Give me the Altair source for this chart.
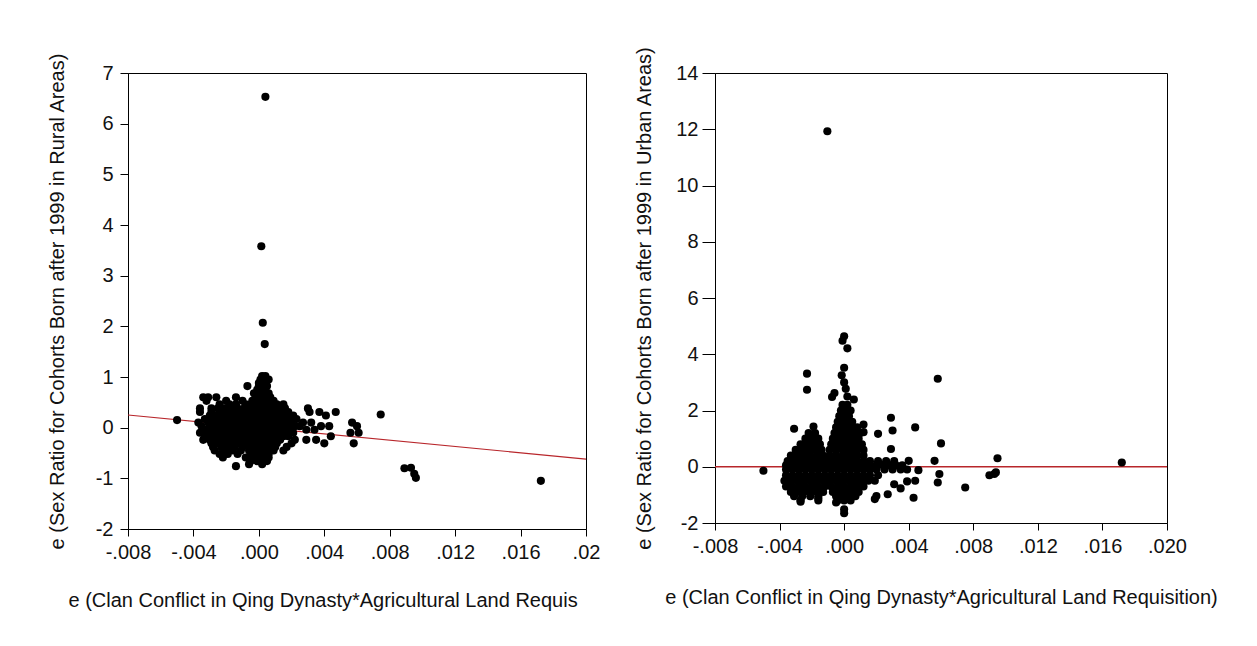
import altair as alt
import pandas as pd

FONT = "Liberation Sans"

# ---------------- Left panel (Rural) ----------------
RURAL_ROW_Y = [1.02, 0.95, 0.88, 0.82, 0.75, 0.68, 0.60, 0.53, 0.46, 0.38, 0.31, 0.24, 0.17,
               0.10, 0.03, -0.04, -0.10, -0.17, -0.24, -0.31, -0.38, -0.45, -0.52, -0.59,
               -0.66, -0.72, -0.76]
RURAL_ROW_X = [
    [0.0002, 0.0004],
    [0.0001, 0.0004, 0.0006],
    [0.0000, 0.0003],
    [-0.0007, 0.0000, 0.0002, 0.0005],
    [-0.0001, 0.0002, 0.0004],
    [-0.0003, 0.0000, 0.0003, 0.0006],
    [-0.0034, -0.0031, -0.0026, -0.0014, -0.0002, 0.0001, 0.0004, 0.0007],
    [-0.0032, -0.0020, -0.0010, -0.0004, -0.0001, 0.0002, 0.0005, 0.0009],
    [-0.0024, -0.0018, -0.0014, -0.0008, -0.0005, -0.0002, 0.0001, 0.0004, 0.0007, 0.0011, 0.0015],
    [-0.0036, -0.0029, -0.0025, -0.0021, -0.0017, -0.0013, -0.0009, -0.0005, -0.0002, 0.0001,
     0.0004, 0.0008, 0.0012, 0.0016, 0.0030],
    [-0.0036, -0.0029, -0.0024, -0.0020, -0.0016, -0.0012, -0.0008, -0.0004, -0.0001, 0.0002,
     0.0005, 0.0009, 0.0013, 0.0018, 0.0031, 0.0037, 0.0047],
    [-0.0030, -0.0026, -0.0022, -0.0018, -0.0014, -0.0010, -0.0006, -0.0002, 0.0001, 0.0004,
     0.0008, 0.0012, 0.0016, 0.0021, 0.0041],
    [-0.0033, -0.0028, -0.0024, -0.0020, -0.0016, -0.0012, -0.0008, -0.0004, 0.0000, 0.0003,
     0.0006, 0.0010, 0.0014, 0.0018, 0.0023],
    [-0.0037, -0.0031, -0.0027, -0.0023, -0.0019, -0.0015, -0.0011, -0.0007, -0.0003, 0.0001,
     0.0004, 0.0008, 0.0012, 0.0016, 0.0020, 0.0027, 0.0032, 0.0057],
    [-0.0035, -0.0030, -0.0026, -0.0022, -0.0018, -0.0014, -0.0010, -0.0006, -0.0002, 0.0001,
     0.0005, 0.0009, 0.0013, 0.0017, 0.0022, 0.0025, 0.0038, 0.0043, 0.0060],
    [-0.0033, -0.0028, -0.0024, -0.0020, -0.0016, -0.0012, -0.0008, -0.0004, 0.0000, 0.0003,
     0.0007, 0.0011, 0.0015, 0.0019, 0.0029, 0.0034],
    [-0.0036, -0.0030, -0.0026, -0.0022, -0.0018, -0.0014, -0.0010, -0.0006, -0.0002, 0.0002,
     0.0005, 0.0009, 0.0013, 0.0017, 0.0021, 0.0056, 0.0061],
    [-0.0033, -0.0028, -0.0024, -0.0020, -0.0016, -0.0012, -0.0008, -0.0004, 0.0000, 0.0003,
     0.0007, 0.0011, 0.0015, 0.0018, 0.0044],
    [-0.0034, -0.0030, -0.0026, -0.0022, -0.0018, -0.0014, -0.0010, -0.0006, -0.0002, 0.0002,
     0.0005, 0.0009, 0.0013, 0.0022, 0.0029, 0.0035],
    [-0.0029, -0.0025, -0.0021, -0.0017, -0.0013, -0.0009, -0.0005, -0.0001, 0.0003, 0.0007,
     0.0011, 0.0020, 0.0040, 0.0058],
    [-0.0028, -0.0023, -0.0019, -0.0015, -0.0010, -0.0006, -0.0002, 0.0002, 0.0006, 0.0010, 0.0017],
    [-0.0027, -0.0021, -0.0016, -0.0011, -0.0006, -0.0002, 0.0001, 0.0005, 0.0009, 0.0015],
    [-0.0024, -0.0019, -0.0013, -0.0005, -0.0001, 0.0002, 0.0006],
    [-0.0022, -0.0008, -0.0003, 0.0000, 0.0003, 0.0006],
    [-0.0005, -0.0001, 0.0002, 0.0005],
    [-0.0006, 0.0002],
    [-0.0014],
]
RURAL_OUT_X = [0.0004, 0.00015, 0.00024, 0.00036, -0.0050, 0.00745, 0.0089, 0.0093, 0.0095,
               0.0096, 0.01724]
RURAL_OUT_Y = [6.53, 3.58, 2.07, 1.65, 0.15, 0.26, -0.80, -0.79, -0.91, -0.99, -1.05]
RURAL_FIT_X = [-0.008, 0.020]
RURAL_FIT_Y = [0.25, -0.62]

# ---------------- Right panel (Urban) ----------------
URBAN_ROW_Y = [2.2, 2.0, 1.8, 1.6, 1.4, 1.2, 1.0, 0.8, 0.6, 0.4, 0.2, 0.05, -0.1, -0.3, -0.5,
               -0.7, -0.9, -1.05, -1.2]
URBAN_ROW_X = [
    [-0.0001, 0.0002],
    [-0.0002, 0.0001, 0.0004],
    [-0.0003, 0.0000, 0.0003],
    [-0.0004, -0.0001, 0.0002, 0.0005],
    [-0.0005, -0.0002, 0.0001, 0.0004, 0.0008],
    [-0.0022, -0.0018, -0.0006, -0.0003, 0.0000, 0.0003, 0.0006, 0.0010],
    [-0.0024, -0.0020, -0.0016, -0.0007, -0.0003, 0.0000, 0.0003, 0.0006, 0.0009],
    [-0.0027, -0.0023, -0.0019, -0.0015, -0.0008, -0.0004, -0.0001, 0.0002, 0.0005, 0.0008, 0.0011],
    [-0.0030, -0.0026, -0.0022, -0.0018, -0.0014, -0.0009, -0.0005, -0.0001, 0.0002, 0.0005,
     0.0008, 0.0012],
    [-0.0033, -0.0029, -0.0025, -0.0021, -0.0017, -0.0013, -0.0009, -0.0005, -0.0001, 0.0002,
     0.0005, 0.0008, 0.0012],
    [-0.0035, -0.0031, -0.0027, -0.0023, -0.0019, -0.0015, -0.0011, -0.0007, -0.0003, 0.0000,
     0.0004, 0.0008, 0.0012, 0.0016, 0.0021, 0.0026, 0.0031],
    [-0.0036, -0.0032, -0.0028, -0.0024, -0.0020, -0.0016, -0.0012, -0.0008, -0.0004, 0.0000,
     0.0004, 0.0008, 0.0012, 0.0016, 0.0020, 0.0024, 0.0028, 0.0032, 0.0036],
    [-0.0036, -0.0032, -0.0028, -0.0024, -0.0020, -0.0016, -0.0012, -0.0008, -0.0004, 0.0000,
     0.0004, 0.0008, 0.0012, 0.0016, 0.0020, 0.0025, 0.0030, 0.0035, 0.0039],
    [-0.0036, -0.0032, -0.0028, -0.0024, -0.0020, -0.0016, -0.0012, -0.0008, -0.0004, 0.0000,
     0.0004, 0.0008, 0.0012, 0.0016, 0.0021],
    [-0.0037, -0.0033, -0.0029, -0.0025, -0.0021, -0.0017, -0.0013, -0.0009, -0.0005, -0.0001,
     0.0003, 0.0007, 0.0011, 0.0015, 0.0019],
    [-0.0036, -0.0032, -0.0028, -0.0024, -0.0020, -0.0016, -0.0012, -0.0008, -0.0004, 0.0000,
     0.0004, 0.0008, 0.0012],
    [-0.0033, -0.0029, -0.0025, -0.0021, -0.0017, -0.0013, -0.0007, -0.0003, 0.0001, 0.0005, 0.0009],
    [-0.0031, -0.0026, -0.0021, -0.0016, -0.0005, -0.0001, 0.0003, 0.0007],
    [-0.0027, -0.0016, -0.0004, 0.0000, 0.0004],
]
URBAN_OUT_X = [-0.00104, 0.0000, -0.0001, 0.0002, 0.0000, -0.00015, -0.0023, -0.0023, 0.0058,
               0.0000, 0.0001, -0.00075, -0.0006, 0.0006, 0.0002, 0.0029, -0.0031, -0.0019,
               0.0044, 0.0030, 0.0021, 0.0012, 0.0012, 0.0060, 0.0029, 0.0056, 0.0040, 0.0095,
               -0.0050, 0.0046, 0.0059, 0.0058, 0.0075, 0.0090, 0.0093, 0.0094, 0.0044, 0.0039,
               0.0035, 0.0043, 0.0027, 0.0031, 0.0019, 0.0020, -0.0027, -0.0016, 0.0000, 0.0000,
               -0.0005, 0.0172]
URBAN_OUT_Y = [11.93, 4.64, 4.48, 4.21, 3.52, 3.25, 3.31, 2.74, 3.13, 3.00, 2.77, 2.48, 2.62,
               2.39, 2.50, 1.74, 1.35, 1.43, 1.40, 1.29, 1.17, 1.50, 1.23, 0.83, 0.63, 0.21,
               0.21, 0.30, -0.14, -0.12, -0.26, -0.56, -0.74, -0.30, -0.26, -0.20, -0.50, -0.52,
               -0.77, -1.10, -0.98, -0.62, -1.15, -1.04, -1.24, -1.12, -1.51, -1.65, -1.27, 0.15]
URBAN_FIT_Y = [0.0]

X_TICKS = [-0.008, -0.004, 0.0, 0.004, 0.008, 0.012, 0.016, 0.020]
RURAL_Y_TICKS = [-2, -1, 0, 1, 2, 3, 4, 5, 6, 7]
URBAN_Y_TICKS = [-2, 0, 2, 4, 6, 8, 10, 12, 14]

RURAL_YTITLE = "e (Sex Ratio for Cohorts Born after 1999 in Rural Areas)"
URBAN_YTITLE = "e (Sex Ratio for Cohorts Born after 1999 in Urban Areas)"
RURAL_XTITLE = "e (Clan Conflict in Qing Dynasty*Agricultural Land Requis"
URBAN_XTITLE = "e (Clan Conflict in Qing Dynasty*Agricultural Land Requisition)"


def points_frame(row_y, row_x, out_x, out_y):
    xs, ys = [], []
    for yv, xl in zip(row_y, row_x):
        for xv in xl:
            xs.append(xv)
            ys.append(yv)
    xs += out_x
    ys += out_y
    return pd.DataFrame({"x": xs, "y": ys})


rural_df = points_frame(RURAL_ROW_Y, RURAL_ROW_X, RURAL_OUT_X, RURAL_OUT_Y)
urban_df = points_frame(URBAN_ROW_Y, URBAN_ROW_X, URBAN_OUT_X, URBAN_OUT_Y)
rural_fit = pd.DataFrame({"x": RURAL_FIT_X, "y": RURAL_FIT_Y})
urban_fit = pd.DataFrame({"y": URBAN_FIT_Y})

X_EXPR = ("(datum.value < -1e-9 ? '-' : '') + "
          "replace(format(abs(datum.value), '.3f'), '0.', '.')")
RURAL_X_EXPR = "datum.value > 0.0199 ? '.02' : " + X_EXPR
Y_EXPR = "(datum.value < 0 ? '-' : '') + format(abs(datum.value), 'd')"

RED = "#b8262b"
DOT = 66

# ----- left chart -----
rx = alt.X("x:Q", scale=alt.Scale(domain=[-0.008, 0.020], nice=False, zero=False),
           axis=alt.Axis(values=X_TICKS, labelExpr=RURAL_X_EXPR, title=RURAL_XTITLE,
                         titleAnchor="start", titleAlign="left", titleX=-60,
                         tickSize=7, labelPadding=6, titlePadding=28, labelFlush=False))
ry = alt.Y("y:Q", scale=alt.Scale(domain=[-2, 7], nice=False, zero=False),
           axis=alt.Axis(values=RURAL_Y_TICKS, labelExpr=Y_EXPR, title=RURAL_YTITLE,
                         tickSize=8, labelPadding=7, titlePadding=28))

rural_pts = alt.Chart(rural_df).mark_circle(size=DOT, color="black", opacity=1).encode(x=rx, y=ry)
rural_line = alt.Chart(rural_fit).mark_line(color=RED, strokeWidth=1.2, clip=True).encode(
    x="x:Q", y="y:Q")
left = alt.layer(rural_line, rural_pts).properties(width=458, height=456)

# ----- right chart -----
ux = alt.X("x:Q", scale=alt.Scale(domain=[-0.008, 0.020], nice=False, zero=False),
           axis=alt.Axis(values=X_TICKS, labelExpr=X_EXPR, title=URBAN_XTITLE,
                         tickSize=7, labelPadding=6, titlePadding=31, labelFlush=False))
uy = alt.Y("y:Q", scale=alt.Scale(domain=[-2, 14], nice=False, zero=False),
           axis=alt.Axis(values=URBAN_Y_TICKS, labelExpr=Y_EXPR, title=URBAN_YTITLE,
                         tickSize=13, labelPadding=4, titlePadding=21))

urban_pts = alt.Chart(urban_df).mark_circle(size=DOT, color="black", opacity=1).encode(x=ux, y=uy)
urban_line = alt.Chart(urban_fit).mark_rule(color=RED, strokeWidth=1.5).encode(y="y:Q")
right = alt.layer(urban_line, urban_pts).properties(width=452, height=450)

chart = alt.hconcat(left, right, spacing=33).properties(
    padding={"left": 46, "top": 45, "right": 5, "bottom": 5},
    background="white",
).configure_view(stroke="black", strokeWidth=1).configure_axis(
    grid=False,
    domainColor="black",
    tickColor="black",
    labelColor="#111111",
    titleColor="#111111",
    labelFont=FONT,
    titleFont=FONT,
    labelFontSize=20,
    titleFontSize=20,
    titleFontWeight="normal",
    domainWidth=1,
    tickWidth=1,
)

chart.save("out.html", embed_options={"renderer": "svg", "actions": False})
